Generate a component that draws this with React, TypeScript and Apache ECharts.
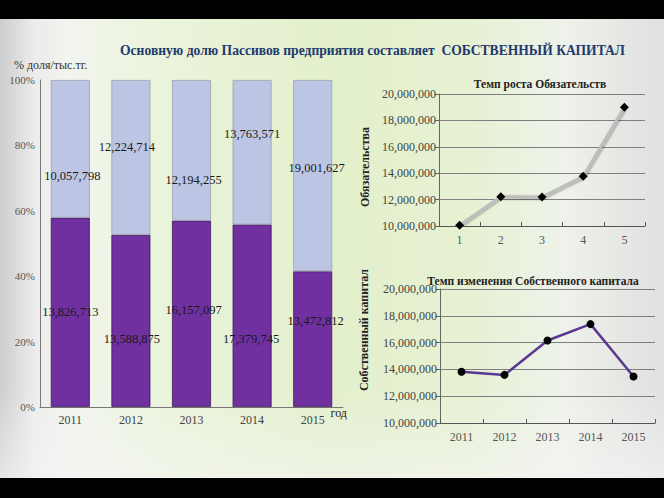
import React, { useEffect, useRef } from "react";
import * as echarts from "echarts";

const years = ["2011", "2012", "2013", "2014", "2015"];
const periods = ["1", "2", "3", "4", "5"];
const equity = [13826713, 13588875, 16157097, 17379745, 13472812];
const liabilities = [10057798, 12224714, 12194255, 13763571, 19001627];
const percentTicks = [0, 20, 40, 60, 80, 100];

// label nudges (style only), in px
const equityLabelOffset = [[0, 0], [1, 18], [2, -4], [-1, 23], [3, -18]];
const liabLabelOffset = [[2, 27], [-4, -10], [2, 30], [0, -18], [4, -8]];

const SERIF = "Liberation Serif";
const fmt = (v: number) => v.toLocaleString("en-US");

export default function App() {
  const ref = useRef<HTMLDivElement>(null);
  useEffect(() => {
    document.body.style.margin = "0";
    if (!ref.current) return;
    const chart = echarts.init(ref.current, undefined, { renderer: "svg" });
    const totals = equity.map((e, i) => e + liabilities[i]);
    const eqPct = equity.map((e, i) => (e / totals[i]) * 100);
    const liPct = liabilities.map((l, i) => (l / totals[i]) * 100);

    const lineY = (gi: number) => ({
      type: "value",
      gridIndex: gi,
      min: 10000000,
      max: 20000000,
      interval: 2000000,
      axisLine: { show: true, lineStyle: { color: "#666", width: 1 } },
      axisTick: { show: true, length: 4, lineStyle: { color: "#666" } },
      axisLabel: { formatter: (v: number) => fmt(v), fontFamily: SERIF, fontSize: 12, color: "#444", margin: 3 },
      splitLine: { show: true, lineStyle: { color: "#7f7f7f", width: 1 } },
    });
    const lineX = (gi: number, data: string[]) => ({
      type: "category",
      gridIndex: gi,
      data,
      boundaryGap: true,
      axisLine: { show: true, lineStyle: { color: "#555", width: 1.2 } },
      axisTick: { show: true, inside: true, length: 4, lineStyle: { color: "#555" } },
      axisLabel: { fontFamily: SERIF, fontSize: 12, color: "#555", margin: 8 },
    });

    chart.setOption({
      animation: false,
      backgroundColor: "transparent",
      title: [
        {
          text: "Основную долю Пассивов предприятия составляет  СОБСТВЕННЫЙ КАПИТАЛ",
          left: 115,
          top: 38,
          textStyle: { fontFamily: SERIF, fontSize: 13.6, fontWeight: "bold", color: "#1f3a6e" },
        },
        {
          text: "Темп роста Обязательств",
          left: 535,
          textAlign: "center",
          top: 73,
          textStyle: { fontFamily: SERIF, fontSize: 11.5, fontWeight: "bold", color: "#222" },
        },
        {
          text: "Темп изменения Собственного капитала",
          left: 528,
          textAlign: "center",
          top: 270,
          textStyle: { fontFamily: SERIF, fontSize: 11.5, fontWeight: "bold", color: "#222" },
        },
      ],
      grid: [
        { left: 40, right: 321, top: 80, bottom: 91 },
        { left: 439, right: 19, top: 94, bottom: 272 },
        { left: 440, right: 9, top: 289, bottom: 75 },
      ],
      xAxis: [
        {
          type: "category",
          gridIndex: 0,
          data: years,
          axisLine: { show: true, lineStyle: { color: "#777", width: 1 } },
          axisTick: { show: false },
          axisLabel: { fontFamily: SERIF, fontSize: 12, color: "#444", margin: 7 },
          name: "год",
          nameLocation: "end",
          nameGap: -2,
          nameTextStyle: { fontFamily: SERIF, fontSize: 12, color: "#222", align: "right", verticalAlign: "top", padding: [0, 0, 0, 0] },
        },
        lineX(1, periods),
        lineX(2, years),
      ],
      yAxis: [
        {
          type: "value",
          gridIndex: 0,
          min: percentTicks[0],
          max: percentTicks[percentTicks.length - 1],
          interval: 20,
          axisLine: { show: true, lineStyle: { color: "#777", width: 1 } },
          axisTick: { show: false },
          splitLine: { show: false },
          axisLabel: { formatter: "{value}%", fontFamily: SERIF, fontSize: 11, color: "#555", margin: 5 },
        },
        lineY(1),
        lineY(2),
      ],
      graphic: [
        {
          type: "text",
          left: 14,
          top: 59,
          style: { text: "% доля/тыс.тг.", fontFamily: SERIF, fontSize: 12, fill: "#333" },
        },
        {
          type: "text",
          x: 365,
          y: 167,
          rotation: Math.PI / 2,
          style: { text: "Обязательства", fontFamily: SERIF, fontSize: 12, fontWeight: "bold", fill: "#222", align: "center", verticalAlign: "middle" },
        },
        {
          type: "text",
          x: 364,
          y: 330,
          rotation: Math.PI / 2,
          style: { text: "Собственный капитал", fontFamily: SERIF, fontSize: 12, fontWeight: "bold", fill: "#222", align: "center", verticalAlign: "middle" },
        },
      ],
      series: [
        {
          type: "bar",
          xAxisIndex: 0,
          yAxisIndex: 0,
          stack: "total",
          barWidth: 39,
          itemStyle: { color: "#7030a0", borderColor: "#3d1a5a", borderWidth: 0.8 },
          data: eqPct.map((v, i) => ({
            value: v,
            label: { offset: equityLabelOffset[i] },
          })),
          label: {
            show: true,
            position: "inside",
            formatter: (p: any) => fmt(equity[p.dataIndex]),
            fontFamily: SERIF,
            fontSize: 12.5,
            color: "#1a1a1a",
          },
        },
        {
          type: "bar",
          xAxisIndex: 0,
          yAxisIndex: 0,
          stack: "total",
          barWidth: 39,
          itemStyle: { color: "#bcc6e4", borderColor: "#9aa0b0", borderWidth: 0.8 },
          data: liPct.map((v, i) => ({
            value: v,
            label: { offset: liabLabelOffset[i] },
          })),
          label: {
            show: true,
            position: "inside",
            formatter: (p: any) => fmt(liabilities[p.dataIndex]),
            fontFamily: SERIF,
            fontSize: 12.5,
            color: "#1a1a1a",
          },
        },
        {
          type: "line",
          xAxisIndex: 1,
          yAxisIndex: 1,
          data: liabilities,
          symbol: "diamond",
          symbolSize: 9,
          itemStyle: { color: "#000" },
          lineStyle: { color: "#bdbdbd", width: 3, shadowColor: "rgba(0,0,0,0.35)", shadowBlur: 2, shadowOffsetX: 1, shadowOffsetY: 1 },
        },
        {
          type: "line",
          xAxisIndex: 2,
          yAxisIndex: 2,
          data: equity,
          symbol: "circle",
          symbolSize: 8,
          itemStyle: { color: "#000" },
          lineStyle: { color: "#5a3790", width: 2.5 },
        },
      ],
    });
    return () => chart.dispose();
  }, []);

  return (
    <div style={{ position: "fixed", left: 0, top: 0, width: 664, height: 498, background: "#000", overflow: "hidden" }}>
      <div
        style={{
          position: "absolute",
          left: 0,
          top: 19,
          width: 664,
          height: 459,
          background:
            "linear-gradient(to bottom, rgba(255,255,255,0) 0%, rgba(255,255,255,0) 80%, rgba(245,245,245,0.6) 100%), linear-gradient(to right, #cdcdcd 0%, #ebebeb 5%, #f2f4ef 10%, #eaf4da 25%, #e3f0cb 50%, #e6f1d2 70%, #eef2ea 85%, #e0e0e0 100%)",
        }}
      />
      <div ref={ref} style={{ position: "absolute", left: 0, top: 0, width: 664, height: 498 }} />
    </div>
  );
}
